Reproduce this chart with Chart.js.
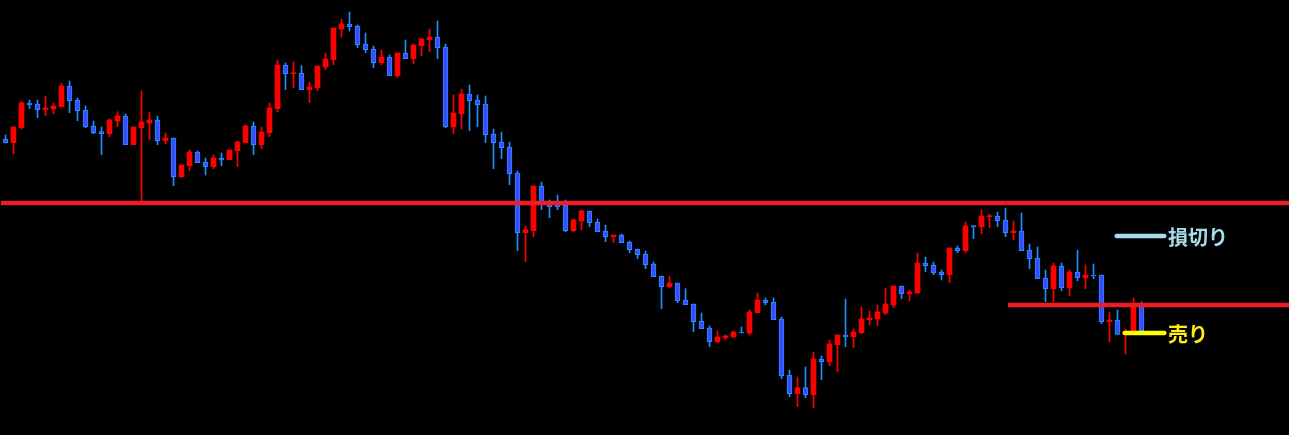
<!DOCTYPE html>
<html>
<head>
<meta charset="utf-8">
<script src="https://cdn.jsdelivr.net/npm/chart.js@4.4.1/dist/chart.umd.min.js"></script>
<style>
  html, body { margin: 0; padding: 0; background: #000; overflow: hidden; }
  #wrap { width: 1289px; height: 435px; }
</style>
</head>
<body>
<div id="wrap"><canvas id="c" width="1289" height="435"></canvas></div>
<script>
// Candle data (price units), index = bar number
const opens = [296,292.3,307.3,332,331,325.3,326,328.3,349,335,325,309,303.3,301.3,314,319,290.3,307.3,312,315,
  294.3,297,258.3,269.3,283,273,268.3,277,275.3,284.3,292.3,309,290.3,302.3,326.3,370,361.3,362,345.3,347.3,
  368,375.3,406,411,409,391,386,372.3,378,359.3,382,376.3,389.3,395.3,398,388,308,321.3,341,335,
  331,301,293,288,262,202.3,204.3,249,230,230,230,204.3,214,224,213,204,198.3,200,193,186,
  181,171,159,148.3,152,135,131,114,107,93.3,97.3,98,103,102,122.3,135,133,116,60,41.3,
  47.3,40.3,76,73.3,90.3,100,98.3,102.3,115.3,116,122,130,149,141.3,142,172,170,163,160.3,187,
  184.3,209,208.3,218.3,219,215,202.3,204,185,177,157,146.3,169,147.3,163,157.3,160,160,113.3,115,
  101,104,129];
const highs = [300,308,333.7,335,335,339,332,351.7,354,337,329,314,308,316,323.3,321,308,344,323,319,
  302,297,270,285,284,277,280,282,285,294,310,313,308,332,375,372,373.3,369.3,353,369,
  382,407,416,423,410,402,389,385,380,382,395,391,396,406,414,391,340,346,350,340,
  339,306,303,293,264,209,249,253,235,240,235,216,225,224,216,210,200,201,194,186,
  184,173,159,159,152,146.3,131,122,109,104,100,104,108,125,142,137,137,118,65,58,
  68,83,79,95,100,136,106,128,124,130,147,149,149,145,182,178,173,165,187,189,
  213,209,225,221,223,227,214,222,191,188,165,172,172,165,185,170,171,160,123,125,
  106,137,133];
const lows = [292,281.3,306,326.3,317.3,319.3,321.3,328.3,322.3,314.3,307.3,301.3,280.3,298.3,308.3,290.3,290.3,234,295,290.3,
  291.3,249.3,257.3,264,272.3,260,266.3,269.3,275.3,268.3,292.3,280.3,286.3,298.3,323.3,345.3,347.3,345.3,332.3,344.3,
  365.3,370.3,398,404,387.3,382.3,367.3,370.3,359.3,357.3,376.3,371.3,379.3,383.3,376.3,307.3,301.3,306,304.3,308.3,
  292.3,266.3,276.3,250.3,184.3,173.3,198.3,225.3,217.3,225.3,203.3,203.3,205,208.3,203.3,193.3,192.3,192.3,182.3,176.3,
  166.3,158.3,126.3,147.3,132.3,130.3,103.3,106.3,88.3,92.3,95.3,98,102,100,122.3,130.3,115.3,56.3,38.3,28.3,
  37.3,27.3,55.3,69.3,63.3,88.3,87.3,101.3,110.3,109.3,120.3,127.3,136.3,134.3,142,163.3,160.3,155,152.3,182.3,
  182.3,196.3,201.3,207.3,208.3,198.3,195.3,184.3,166.3,156.3,133.3,133,144.3,139.3,154.3,146.3,156.3,111.3,93,100.5,
  81,104,104];
const closes = [292.3,308,332,330.3,325.3,327,329,349,334.3,324.3,308,302.3,301.3,315,319,290.3,308,313,315,294.3,
  297,258.3,270,283,272.3,268.3,277,275,285,293,309,290.3,303,327,370,361.3,362.3,345.3,348,369,
  376,407,411,408.3,390.3,385.3,372.3,378,359.3,382,376.3,390,396,398,387.3,308,322,341,334.3,330.3,
  300.3,292.3,287.3,261.3,202.3,205.3,249,231,228.3,228.3,204.3,215,224,212.3,203.3,198.3,200,192.3,185.3,180.3,
  170.3,158.3,148.3,152,134.3,130.3,113.3,106.3,93.3,98,99,103,102,123,135,132.3,115.3,59.3,41.3,47.3,
  40.3,76,73.3,91,100,98.3,103,116,117,123,131,149,141.3,143,172,169.3,162.3,160.3,187,184.3,
  209,208.3,219,219,214.3,202.3,204,184.3,176.3,156.3,146.3,169,147.3,163,157.3,160,159,113.3,115,100.5,
  103,130,104];

// Horizontal price levels and labels
const resistanceLevel = 232;
const lowerLineLevel = 130;
const lowerLineStart = 125.3;
const stopLossLevel = 199;
const sellLevel = 102;
const markerStart = [138.9, 139.9];
const markerEnd = 144.85;
const labelTexts = ['損切り', '売り'];
const labelLevels = [stopLossLevel, sellLevel];
const labelColors = ['#a6dbea', '#ffee10'];

const X_MIN = -0.6875, X_MAX = X_MIN + 1289 / 8;
const UP = '#ff0000', DOWN_FILL = '#3a4bff', DOWN_EDGE = '#2a8cff', DOWN_WICK = '#1e90ff';
const isUp = i => closes[i] >= opens[i];

const wickData = opens.map((o, i) => ({ x: i, y: [lows[i], highs[i]] }));
const bodyData = opens.map((o, i) => ({ x: i, y: [opens[i], closes[i]] }));

const labelPlugin = {
  id: 'labels',
  afterDatasetsDraw(chart) {
    const ctx = chart.ctx, xs = chart.scales.x, ys = chart.scales.y;
    ctx.save();
    ctx.font = 'bold 20px "Noto Sans CJK JP", "Noto Sans", sans-serif';
    ctx.textBaseline = 'middle';
    ctx.textAlign = 'left';
    labelTexts.forEach((t, k) => {
      ctx.fillStyle = labelColors[k];
      ctx.fillText(t, xs.getPixelForValue(145.3), ys.getPixelForValue(labelLevels[k]) + 1);
    });
    ctx.restore();
  }
};

new Chart(document.getElementById('c'), {
  type: 'bar',
  data: {
    datasets: [
      { type: 'line', order: 0, data: [{ x: -0.56, y: resistanceLevel }, { x: X_MAX + 1, y: resistanceLevel }],
        borderColor: '#ee1c25', borderWidth: 4.5, pointRadius: 0, borderCapStyle: 'butt' },
      { type: 'line', order: 0, data: [{ x: lowerLineStart, y: lowerLineLevel }, { x: X_MAX + 1, y: lowerLineLevel }],
        borderColor: '#ee1c25', borderWidth: 4.5, pointRadius: 0, borderCapStyle: 'butt' },
      { type: 'line', order: 0, data: [{ x: markerStart[0], y: stopLossLevel }, { x: markerEnd, y: stopLossLevel }],
        borderColor: '#a6dbea', borderWidth: 4.5, pointRadius: 0, borderCapStyle: 'round' },
      { type: 'line', order: 0, data: [{ x: markerStart[1], y: sellLevel }, { x: markerEnd, y: sellLevel }],
        borderColor: '#ffff00', borderWidth: 4.5, pointRadius: 0, borderCapStyle: 'round' },
      { order: 1, data: bodyData, grouped: false, barThickness: 5, minBarLength: 1,
        backgroundColor: c => isUp(c.dataIndex) ? UP : DOWN_FILL,
        borderColor: c => isUp(c.dataIndex) ? UP : DOWN_EDGE,
        borderWidth: c => isUp(c.dataIndex) ? 0 : 1,
        borderSkipped: false },
      { order: 2, data: wickData, grouped: false, barThickness: 1, minBarLength: 1,
        backgroundColor: c => isUp(c.dataIndex) ? UP : DOWN_WICK, borderWidth: 0 }
    ]
  },
  options: {
    responsive: false,
    devicePixelRatio: 1,
    animation: false,
    layout: { padding: 0 },
    plugins: { legend: { display: false }, tooltip: { enabled: false } },
    scales: {
      x: { type: 'linear', min: X_MIN, max: X_MAX, offset: false, display: false },
      y: { type: 'linear', min: 0, max: 435, display: false }
    }
  },
  plugins: [labelPlugin]
});
</script>
</body>
</html>
